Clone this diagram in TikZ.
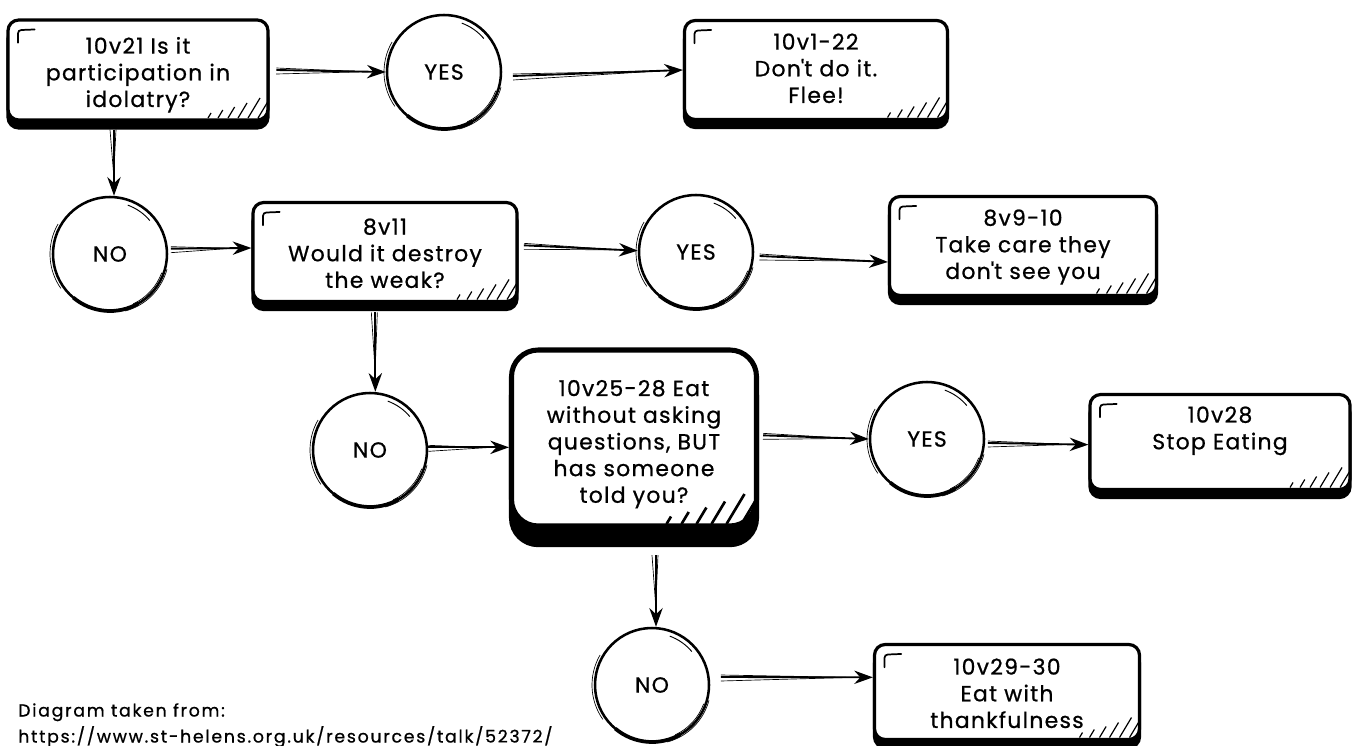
\documentclass[tikz,border=0pt]{standalone}
\usepackage{fontspec}
\setmainfont{Poppins}[LetterSpace=6,FakeBold=0.8]
\usetikzlibrary{arrows.meta,calc}
\newdimen\pxd \pxd=0.75pt
\newcommand{\bt}[4]{\begin{minipage}[c][#2\pxd][t]{#1\pxd}\centering\vspace*{#3\pxd}#4\end{minipage}}
\newcommand{\hatchmk}[2]{\foreach \hi/\hh in {0/5,1/8,2/11,3/15,4/20,5/26}{\draw[sharp corners,line width=#2] ([xshift={(-60+10*\hi)*#1*0.75pt},yshift={1.5pt}]path picture bounding box.south east) -- ++({0.6*\hh*#1*0.75pt},{\hh*#1*0.75pt});}}
\newcommand{\cornermk}{\draw[sharp corners,line width=1.3pt, line cap=round] ([xshift=7.5pt,yshift=-17pt]path picture bounding box.north west) -- ++(0pt,7pt) arc[start angle=180,end angle=90,radius=2.5pt] -- ++(10pt,0.4pt);}
\tikzset{
  txt/.style={font=\fontsize{16.4}{20}\selectfont},
  bx/.style={txt, rectangle, rounded corners=8pt, draw, line width=2.4pt, fill=white, inner sep=0pt,
    preaction={fill=black, draw, line width=2.4pt, transform canvas={yshift=-6pt}},
    path picture={\hatchmk{1}{0.9pt}\cornermk}},
  bxh/.style={txt, rectangle, rounded corners=20pt, draw, line width=3.8pt, fill=white, inner sep=0pt,
    preaction={fill=black, draw, line width=3.8pt, transform canvas={yshift=-14pt}},
    path picture={\hatchmk{1.5}{2pt}}},
  circ/.style={txt, circle, draw, line width=1.9pt, fill=white, minimum size=114\pxd, inner sep=0pt},
  mainarr/.style={line width=1.4pt, -{Stealth[length=14pt,width=10pt]}},
  skl/.style={line width=0.5pt},
}
\newcommand{\sk}[1]{%
  \draw[line width=0.5pt] ($(#1.center)+(150:60\pxd)$) arc[start angle=150,end angle=215,radius=60\pxd];
  \draw[line width=0.7pt] ($(#1.center)+(70:52\pxd)$) arc[start angle=70,end angle=40,radius=52\pxd];
  \draw[line width=2.8pt] ($(#1.center)+(230:57\pxd)$) arc[start angle=230,end angle=300,radius=57\pxd];
  \draw[line width=0.5pt] ($(#1.center)+(285:59\pxd)$) arc[start angle=285,end angle=345,radius=59\pxd];
  \draw[line width=0.5pt] ($(#1.center)+(295:55\pxd)$) arc[start angle=295,end angle=340,radius=55\pxd];
}
\newcommand{\sarr}[2]{%
  \coordinate (sa) at (#1); \coordinate (sb) at (#2);
  \draw[mainarr] (sa) -- (sb);
  \draw[skl] ($(sa)!3pt!-90:(sb)$) -- ($(sb)!13pt!(sa)$);
  \draw[skl] ($(sa)!1.5pt!90:(sb)$) -- ($(sb)!20pt!(sa)$);
}
\begin{document}
\begin{tikzpicture}[x=0.75pt,y=-0.75pt]
\useasboundingbox[fill=white] (0,0) rectangle (1364,746);

\node[bx] (A) at (138,70) {\bt{260}{100}{17}{10v21 Is it\\participation in\\idolatry?}};
\node[bx] (B3) at (816,70) {\bt{263}{99}{13}{10v1-22\\Don\textquotesingle t do it.\\Flee!}};
\node[bx] (B5) at (385,252) {\bt{264}{99}{16}{8v11\\Would it destroy\\the weak?}};
\node[bx] (B7) at (1023,246) {\bt{267}{99}{13}{8v9-10\\Take care they\\don\textquotesingle t see you}};
\node[bxh] (B9) at (634,438) {\bt{245}{176}{30}{10v25-28 Eat\\without asking\\questions, BUT\\has someone\\told you?}};
\node[bx] (B11) at (1220,442) {\bt{260}{95}{12}{10v28\\Stop Eating}};
\node[bx] (B13) at (1007,692) {\bt{265}{95}{14}{10v29-30\\Eat with\\thankfulness}};

\node[circ] (Y1) at (444,72) {YES};
\node[circ] (N1) at (110,254) {NO};
\node[circ] (Y2) at (696,252) {YES};
\node[circ] (N2) at (370,450) {NO};
\node[circ] (Y3) at (927,439) {YES};
\node[circ] (N3) at (652,685) {NO};
\foreach \c in {Y1,N1,Y2,N2,Y3,N3}{\sk{\c}}

\sarr{[xshift=5pt]A.east}{Y1.west}
\sarr{[xshift=8pt,yshift=-3pt]Y1.east}{B3.west}
\sarr{$(A.south -| N1.north)+(3pt,-6pt)$}{[xshift=3pt]N1.north}
\sarr{[xshift=2pt,yshift=4pt]N1.east}{[yshift=3pt]B5.west}
\sarr{[xshift=4pt,yshift=5pt]B5.east}{[yshift=1pt]Y2.west}
\sarr{[xshift=4pt,yshift=-3pt]Y2.east}{[yshift=-12pt]B7.west}
\sarr{$(B5.south -| N2.north)+(4pt,-7pt)$}{[xshift=4pt]N2.north}
\sarr{[yshift=2pt]N2.east}{[yshift=-7pt]B9.west}
\sarr{[xshift=3pt,yshift=2pt]B9.east}{Y3.west}
\sarr{[xshift=2pt,yshift=-3pt]Y3.east}{[yshift=-2pt]B11.west}
\sarr{$(B9.south -| N3.north)+(3pt,-20pt)$}{[xshift=3pt]N3.north}
\sarr{[xshift=8pt,yshift=6pt]N3.east}{[yshift=11pt]B13.west}

\node[anchor=north west, inner sep=0pt, align=left, font=\fontsize{13}{19.5}\selectfont\addfontfeatures{LetterSpace=10}] (foot) at (18,703) {Diagram taken from:\\https://www.st-helens.org.uk/resources/talk/52372/};
\end{tikzpicture}
\end{document}
